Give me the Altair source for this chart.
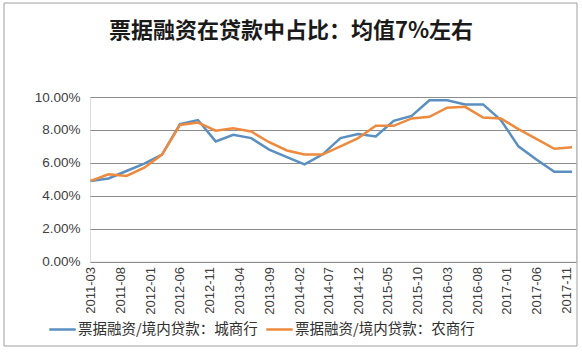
import altair as alt
import pandas as pd

# Quarterly observations (year/month)
dates = ["2011/03", "2011/06", "2011/09", "2011/12", "2012/03", "2012/06", "2012/09", "2012/12",
         "2013/03", "2013/06", "2013/09", "2013/12", "2014/03", "2014/06", "2014/09", "2014/12",
         "2015/03", "2015/06", "2015/09", "2015/12", "2016/03", "2016/06", "2016/09", "2016/12",
         "2017/03", "2017/06", "2017/09", "2017/12"]
city_bank = [4.9, 5.05, 5.5, 5.95, 6.5, 8.35, 8.6, 7.3, 7.7, 7.5, 6.8, 6.35, 5.9, 6.5,
             7.5, 7.75, 7.6, 8.55, 8.85, 9.8, 9.8, 9.55, 9.55, 8.6, 7.0, 6.2, 5.45, 5.45]
rural_bank = [4.9, 5.3, 5.2, 5.7, 6.5, 8.3, 8.45, 7.95, 8.1, 7.9, 7.25, 6.75, 6.5, 6.5,
              7.0, 7.5, 8.25, 8.25, 8.7, 8.8, 9.35, 9.4, 8.75, 8.7, 8.05, 7.45, 6.85, 6.95]
series_names = ["票据融资/境内贷款：城商行", "票据融资/境内贷款：农商行"]
series_colors = ["#5A8FC0", "#EE8A3E"]
tick_labels = ["2011-03", "2011-08", "2012-01", "2012-06", "2012-11", "2013-04", "2013-09",
               "2014-02", "2014-07", "2014-12", "2015-05", "2015-10", "2016-03", "2016-08",
               "2017-01", "2017-06", "2017-11"]
title_text = "票据融资在贷款中占比：均值7%左右"

rows = []
for d, v in zip(dates, city_bank):
    rows.append({"date": d + "/01", "value": v / 100, "series": series_names[0]})
for d, v in zip(dates, rural_bank):
    rows.append({"date": d + "/01", "value": v / 100, "series": series_names[1]})
df = pd.DataFrame(rows)

tick_values = [alt.DateTime(year=int(t[:4]), month=int(t[5:]), date=1) for t in tick_labels]

W, H = 486, 164.5

lines = alt.Chart(df).mark_line(strokeWidth=2.5).encode(
    x=alt.X("date:T",
            scale=alt.Scale(domain=[alt.DateTime(year=2011, month=2, date=26),
                                    alt.DateTime(year=2017, month=12, date=21)]),
            axis=alt.Axis(values=tick_values, format="%Y-%m", labelAngle=-90, title=None,
                          grid=False, ticks=False, domain=False, labelPadding=5,
                          labelFont="Liberation Sans", labelFontSize=13, labelColor="#404040",
                          labelOverlap=False, labelBound=False, labelFlush=False)),
    y=alt.Y("value:Q",
            scale=alt.Scale(domain=[0, 0.10]),
            axis=alt.Axis(values=[0, 0.02, 0.04, 0.06, 0.08, 0.10], format=".2%", title=None,
                          ticks=False, domain=False, labelPadding=10,
                          labelFont="Liberation Sans", labelFontSize=13.5, labelColor="#404040",
                          gridColor="#8c8c8c", gridWidth=1)),
    color=alt.Color("series:N",
                    scale=alt.Scale(domain=series_names, range=series_colors),
                    legend=alt.Legend(title=None, orient="none", direction="horizontal",
                                      legendX=-42, legendY=218,
                                      symbolType="stroke", symbolSize=700, symbolStrokeWidth=2.5,
                                      labelFont="Noto Sans CJK SC", labelFontSize=14.5,
                                      labelColor="#303030", labelOffset=1, columnPadding=3,
                                      labelLimit=400)),
)

frame = alt.Chart(pd.DataFrame({"a": [0]})).mark_rect(
    fill=None, stroke="#a0a0a0", strokeWidth=1
).encode(x=alt.value(-86), x2=alt.value(487), y=alt.value(-94), y2=alt.value(249))

chart = alt.layer(frame, lines).properties(
    width=W, height=H,
    title=alt.TitleParams(title_text, font="Noto Sans CJK SC", fontSize=22, fontWeight="bold",
                          color="#1a1a1a", anchor="middle", dx=-42, offset=-40),
    autosize=alt.AutoSizeParams(type="none"),
    padding={"left": 90, "top": 97, "right": 6, "bottom": 91},
).configure_view(stroke=None).configure(background="white")

chart.save("out.html", embed_options={"renderer": "svg", "actions": False})
